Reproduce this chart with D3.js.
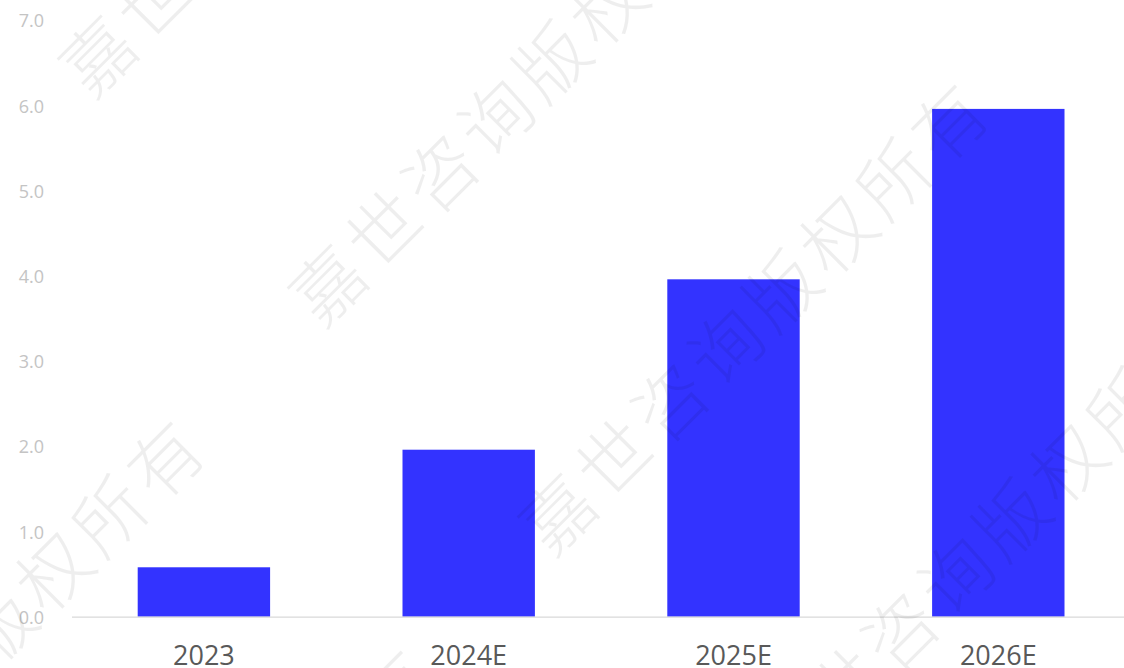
<!DOCTYPE html>
<html>
<head>
<meta charset="utf-8">
<script src="https://cdn.jsdelivr.net/npm/d3@7"></script>
<style>
  html, body { margin: 0; padding: 0; background: #ffffff; }
  svg { display: block; }
</style>
</head>
<body>
<svg id="chart" width="1124" height="668"></svg>
<script>
// ---- data ----
const categories = ["2023", "2024E", "2025E", "2026E"];
const values = [0.58, 1.96, 3.96, 5.96];
const yTicks = [0, 1, 2, 3, 4, 5, 6, 7];
const watermarkText = "嘉世咨询版权所有";

// ---- layout ----
const W = 1124, H = 668;
const svg = d3.select("#chart");
const font = "'Open Sans', 'Noto Sans', sans-serif";

const x = d3.scaleBand()
  .domain(categories)
  .range([71.5, 1130.7])
  .paddingInner(0.5)
  .paddingOuter(0.25);

const y = d3.scaleLinear()
  .domain([0, 7])
  .range([616.7, 20.3]);

// y axis labels (no line, no ticks)
const yAxis = d3.axisLeft(y)
  .tickValues(yTicks)
  .tickFormat(d3.format(".1f"))
  .tickSize(0)
  .tickPadding(0);

const gy = svg.append("g")
  .attr("transform", "translate(44,0.8)")
  .call(yAxis);
gy.select(".domain").remove();
gy.selectAll("text")
  .attr("fill", "#c4c4c4")
  .attr("font-size", 18)
  .attr("font-family", font);

// bars
svg.append("g")
  .selectAll("rect")
  .data(categories)
  .join("rect")
  .attr("x", d => x(d))
  .attr("width", x.bandwidth())
  .attr("y", (d, i) => y(values[i]))
  .attr("height", (d, i) => y(0) - y(values[i]))
  .attr("fill", "#3333ff");

// x axis
const xAxis = d3.axisBottom(x).tickSize(0).tickPadding(0);
const gx = svg.append("g")
  .attr("transform", `translate(0,${y(0)})`)
  .call(xAxis);
gx.select(".domain")
  .attr("d", `M72,0.5H${W}`)
  .attr("stroke", "#d9d9d9")
  .attr("stroke-width", 1.2);
gx.selectAll("text")
  .attr("fill", "#595959")
  .attr("font-size", 27)
  .attr("font-family", font)
  .attr("dy", null)
  .attr("y", 48.5);

// watermark (diagonal, repeated)
const wm = svg.append("g").attr("pointer-events", "none");
const wmCenters = [];
for (let i = -3; i <= 5; i++) {
  for (let j = -2; j <= 2; j++) {
    const cx = 95 + i * 230 + j * 554;
    const cy = 53 + i * 229 - j * 566;
    // keep only the instances whose diagonal run crosses the canvas
    const ex = cx + 8 * 55.5, ey = cy - 8 * 56.5;
    const minX = Math.min(cx, ex) - 40, maxX = Math.max(cx, ex) + 40;
    const minY = Math.min(cy, ey) - 40, maxY = Math.max(cy, ey) + 40;
    if (maxX < 0 || minX > W || maxY < 0 || minY > H) continue;
    // check the run actually passes through the visible box
    let visible = false;
    for (let k = 0; k < 8; k++) {
      const px = cx + k * 55.5, py = cy - k * 56.5;
      if (px > -30 && px < W + 30 && py > -30 && py < H + 30) { visible = true; break; }
    }
    if (visible) wmCenters.push([cx, cy]);
  }
}
wm.selectAll("text")
  .data(wmCenters)
  .join("text")
  .attr("transform", d => `translate(${d[0]},${d[1]}) rotate(-45)`)
  .attr("x", -36)
  .attr("dominant-baseline", "central")
  .attr("font-family", "'Noto Sans CJK SC', sans-serif")
  .attr("font-weight", 300)
  .attr("font-size", 72)
  .attr("letter-spacing", 7)
  .attr("fill", "#000000")
  .attr("fill-opacity", 0.068)
  .text(watermarkText);
</script>
</body>
</html>
